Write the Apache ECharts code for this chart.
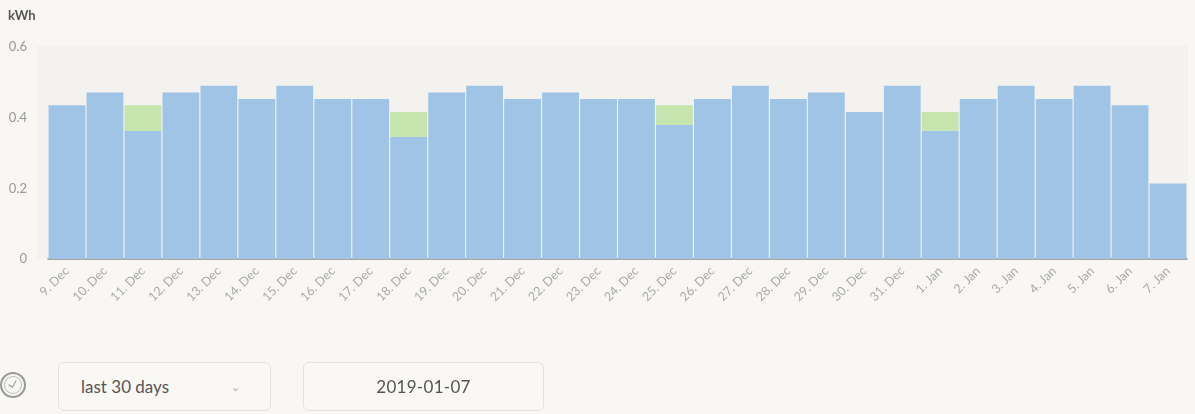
<!DOCTYPE html>
<html>
<head>
<meta charset="utf-8">
<script src="https://cdn.jsdelivr.net/npm/echarts@6/dist/echarts.min.js"></script>
<style>
body{margin:0;background:#f8f7f3;font-family:Lato,"Open Sans",sans-serif;}
#wrap{position:relative;width:1195px;height:414px;}
#chart{position:absolute;left:0;top:0;width:1195px;height:414px;}
.box{position:absolute;top:362px;height:49px;border:1px solid #e4e1dc;border-radius:6px;background:#f9f8f5;
  font-size:17px;color:#555;line-height:48px;box-sizing:border-box;}
#range{left:58px;width:213px;padding-left:22px;}
#range .chev{position:absolute;left:172px;top:0;font-size:11px;color:#aaa;}
#date{left:303px;width:241px;text-align:center;letter-spacing:0.3px;}
#clock{position:absolute;left:0px;top:372px;width:22px;height:22px;border:2px solid #9a9a9a;border-radius:50%;
  box-shadow:inset 0 0 0 2px #f8f7f3, inset 0 0 0 3px #bbb;}
#clock:after{content:"";position:absolute;left:8px;top:5px;width:4px;height:7px;border-right:1.5px solid #999;border-bottom:1.5px solid #999;transform:rotate(30deg);}
</style>
</head>
<body>
<div id="wrap">
  <div id="chart"></div>
  <div id="clock"></div>
  <div class="box" id="range">last 30 days<span class="chev">&#8964;</span></div>
  <div class="box" id="date">2019-01-07</div>
</div>
<script>
var days = ['9. Dec','10. Dec','11. Dec','12. Dec','13. Dec','14. Dec','15. Dec','16. Dec','17. Dec','18. Dec',
  '19. Dec','20. Dec','21. Dec','22. Dec','23. Dec','24. Dec','25. Dec','26. Dec','27. Dec','28. Dec',
  '29. Dec','30. Dec','31. Dec','1. Jan','2. Jan','3. Jan','4. Jan','5. Jan','6. Jan','7. Jan'];
// blue part (bottom)
var blueVals = [0.435,0.471,0.362,0.471,0.490,0.453,0.490,0.453,0.453,0.345,
  0.471,0.490,0.453,0.471,0.453,0.453,0.379,0.453,0.490,0.453,
  0.471,0.416,0.490,0.363,0.453,0.490,0.453,0.490,0.435,0.214];
// green part stacked on top
var greenVals = [0,0,0.073,0,0,0,0,0,0,0.071,
  0,0,0,0,0,0,0.056,0,0,0,
  0,0,0,0.053,0,0,0,0,0,0];
var yTicks = [0, 0.2, 0.4, 0.6];

var myChart = echarts.init(document.getElementById('chart'));
myChart.setOption({
  animation:false,
  backgroundColor:'transparent',
  grid:{left:48,right:8,top:47,bottom:155},
  graphic:[
    {type:'rect',z:-10,shape:{x:37,y:46,width:1151,height:213},style:{fill:'#f3f2ee'}},
    {type:'text',left:8,top:9,style:{text:'kWh',font:'bold 13px Lato, sans-serif',fill:'#555'}}
  ],
  xAxis:{
    type:'category',
    data:days,
    axisLine:{lineStyle:{color:'#8a8a8a',width:1.5}},
    axisTick:{alignWithLabel:true,length:7,lineStyle:{color:'#cfcfcf'}},
    axisLabel:{rotate:45,color:'#aaa',fontSize:12.5,fontFamily:'Lato, sans-serif',margin:10,interval:0}
  },
  yAxis:{
    type:'value',
    min:yTicks[0],max:yTicks[yTicks.length-1],interval:0.2,
    splitLine:{show:false},
    axisLine:{show:false},
    axisTick:{show:false},
    axisLabel:{color:'#999',fontSize:13,fontFamily:'Lato, sans-serif',margin:21,
      formatter:function(v){return v===0?'0':String(v);}}
  },
  series:[
    {type:'bar',stack:'e',data:blueVals,barCategoryGap:'3%',itemStyle:{color:'#a0c4e6'}},
    {type:'bar',stack:'e',data:greenVals,barCategoryGap:'3%',itemStyle:{color:'#c5e4ae'}}
  ]
});
</script>
</body>
</html>
